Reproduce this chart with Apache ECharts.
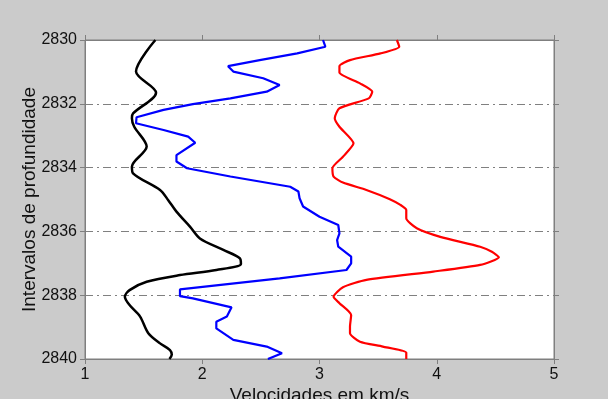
<!DOCTYPE html>
<html>
<head>
<meta charset="utf-8">
<script src="https://cdn.jsdelivr.net/npm/echarts@6/dist/echarts.min.js"></script>
<style>
  html, body { margin: 0; padding: 0; background: #cbcbcb; }
  #chart { width: 608px; height: 399px; }
</style>
</head>
<body>
<div id="chart"></div>
<script>
// profundidade (m) e velocidade (km/s) de cada perfil
var depthBlack = [2830.0, 2830.99, 2831.65, 2832.30, 2832.45, 2832.72, 2833.34, 2833.97, 2834.18, 2834.70, 2835.02, 2835.38, 2835.85, 2836.22, 2836.58, 2836.84, 2837.02, 2837.21, 2837.37, 2837.58, 2837.84, 2838.05, 2838.31, 2838.67, 2839.19, 2839.51, 2839.72, 2839.87, 2840.0];
var velBlack   = [1.60, 1.435, 1.606, 1.41, 1.40, 1.42, 1.526, 1.40, 1.41, 1.64, 1.71, 1.78, 1.895, 1.98, 2.18, 2.32, 2.33, 2.12, 1.81, 1.526, 1.38, 1.34, 1.38, 1.47, 1.54, 1.64, 1.725, 1.74, 1.72];

var depthBlue = [2830.0, 2830.21, 2830.42, 2830.63, 2830.82, 2830.99, 2831.20, 2831.41, 2831.62, 2831.83, 2832.01, 2832.19, 2832.42, 2832.61, 2832.82, 2833.03, 2833.22, 2833.61, 2833.81, 2834.02, 2834.28, 2834.60, 2834.75, 2834.96, 2835.22, 2835.54, 2835.80, 2836.06, 2836.27, 2836.48, 2836.79, 2837.00, 2837.21, 2837.47, 2837.82, 2838.03, 2838.10, 2838.38, 2838.67, 2838.83, 2839.04, 2839.40, 2839.61, 2839.82, 2840.0];
var velBlue   = [3.03, 3.05, 2.81, 2.49, 2.22, 2.265, 2.52, 2.66, 2.55, 2.24, 1.92, 1.67, 1.44, 1.435, 1.67, 1.88, 1.94, 1.78, 1.78, 1.87, 2.24, 2.75, 2.82, 2.83, 2.86, 3.00, 3.16, 3.17, 3.15, 3.16, 3.27, 3.27, 3.23, 2.66, 1.81, 1.81, 1.92, 2.25, 2.21, 2.12, 2.12, 2.265, 2.55, 2.68, 2.56];

var depthRed = [2830.0, 2830.21, 2830.42, 2830.63, 2830.82, 2831.02, 2831.36, 2831.62, 2831.83, 2832.14, 2832.45, 2832.72, 2833.24, 2833.66, 2834.02, 2834.28, 2834.47, 2834.70, 2834.99, 2835.17, 2835.33, 2835.59, 2835.90, 2836.17, 2836.48, 2836.64, 2836.81, 2837.05, 2837.26, 2837.52, 2837.75, 2838.05, 2838.25, 2838.62, 2838.99, 2839.19, 2839.46, 2839.61, 2839.80, 2840.0];
var velRed   = [3.66, 3.68, 3.52, 3.26, 3.17, 3.17, 3.345, 3.45, 3.42, 3.17, 3.13, 3.17, 3.29, 3.20, 3.11, 3.12, 3.20, 3.40, 3.60, 3.69, 3.74, 3.74, 3.83, 4.03, 4.37, 4.47, 4.53, 4.37, 3.97, 3.40, 3.20, 3.12, 3.17, 3.27, 3.26, 3.26, 3.345, 3.54, 3.74, 3.74];

var xTicks = [1, 2, 3, 4, 5];
var yTicks = [2830, 2832, 2834, 2836, 2838, 2840];

function pares(v, d) {
  var out = [];
  for (var i = 0; i < v.length; i++) out.push([v[i], d[i]]);
  return out;
}

var myChart = echarts.init(document.getElementById('chart'));
var fonte = 'Liberation Sans, Arial, sans-serif';
var cinza = '#7f7f7f';

var option = {
  backgroundColor: '#cbcbcb',
  animation: false,
  grid: {
    left: 85, top: 40, width: 469, height: 319,
    outerBoundsMode: 'none', containLabel: false,
    show: true, backgroundColor: '#ffffff', borderColor: cinza, borderWidth: 1
  },
  xAxis: [{
    type: 'value', min: xTicks[0], max: xTicks[xTicks.length - 1], interval: 1,
    name: 'Velocidades em km/s', nameLocation: 'middle', nameGap: 27, nameMoveOverlap: false,
    nameTextStyle: { fontFamily: fonte, fontSize: 19, color: '#111' },
    axisLine: { show: true, lineStyle: { color: cinza } },
    axisTick: { show: true, inside: false, length: 5, lineStyle: { color: cinza } },
    axisLabel: { fontFamily: fonte, fontSize: 16, color: '#111', margin: 8 },
    splitLine: { show: false }
  }, {
    type: 'value', position: 'top', min: 1, max: 5, interval: 1,
    axisLine: { show: true, lineStyle: { color: cinza } },
    axisTick: { show: true, inside: false, length: 5, lineStyle: { color: cinza } },
    axisLabel: { show: false },
    splitLine: { show: false }
  }],
  yAxis: [{
    type: 'value', inverse: true, min: yTicks[0], max: yTicks[yTicks.length - 1], interval: 2,
    name: 'Intervalos de profundidade', nameLocation: 'middle', nameGap: 46, nameMoveOverlap: false,
    nameTextStyle: { fontFamily: fonte, fontSize: 19, color: '#111' },
    axisLine: { show: true, lineStyle: { color: cinza } },
    axisTick: { show: true, inside: false, length: 5, lineStyle: { color: cinza } },
    axisLabel: { fontFamily: fonte, fontSize: 16, color: '#111', margin: 8, formatter: function (v) { return String(v); } },
    splitLine: { show: true, lineStyle: { color: '#808080', width: 1, type: [8, 4, 2, 4] } }
  }, {
    type: 'value', position: 'right', inverse: true, min: 2830, max: 2840, interval: 2,
    axisLine: { show: true, lineStyle: { color: cinza } },
    axisTick: { show: true, inside: false, length: 5, lineStyle: { color: cinza } },
    axisLabel: { show: false },
    splitLine: { show: false }
  }],
  series: [{
    type: 'line', data: pares(velBlack, depthBlack), showSymbol: false, smooth: 0.3,
    lineStyle: { color: '#000000', width: 2.5 }, itemStyle: { color: '#000000' }
  }, {
    type: 'line', data: pares(velBlue, depthBlue), showSymbol: false,
    lineStyle: { color: '#0000ff', width: 2.2 }, itemStyle: { color: '#0000ff' }
  }, {
    type: 'line', data: pares(velRed, depthRed), showSymbol: false, smooth: 0.2,
    lineStyle: { color: '#ff0000', width: 2.2 }, itemStyle: { color: '#ff0000' }
  }]
};
myChart.setOption(option);
</script>
</body>
</html>
